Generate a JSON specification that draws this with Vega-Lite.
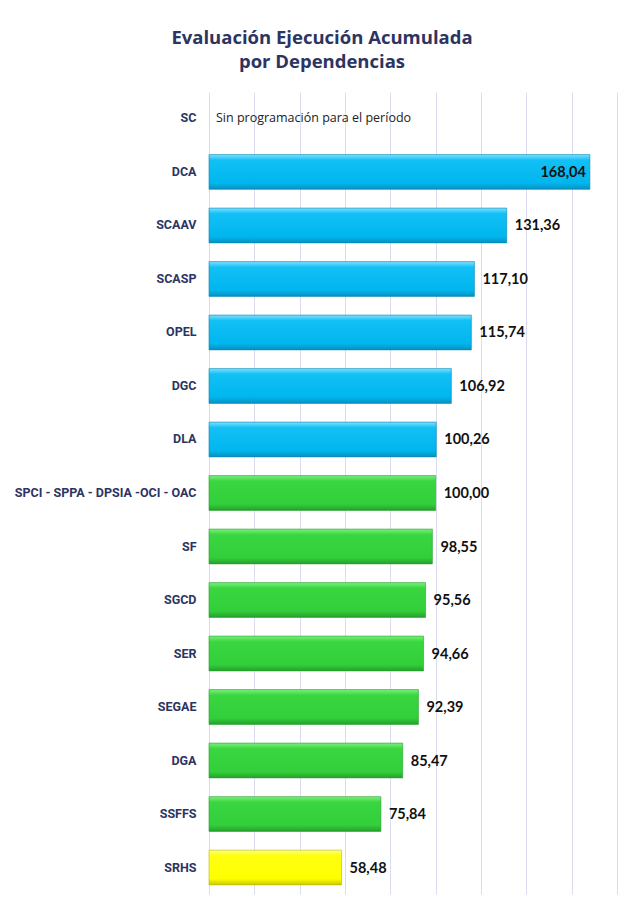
{
  "$schema": "https://vega.github.io/schema/vega-lite/v6.json",
  "autosize": "none",
  "width": 408,
  "height": 802,
  "padding": {"left": 209, "top": 92, "right": 14, "bottom": 7},
  "background": "white",
  "title": {
    "text": ["Evaluación Ejecución Acumulada", "por Dependencias"],
    "font": "Open Sans",
    "fontSize": 18.5,
    "fontWeight": "bold",
    "color": "#2c3462",
    "lineHeight": 24,
    "anchor": "middle",
    "frame": "group",
    "dx": -91,
    "offset": 21
  },
  "config": {
    "view": {"stroke": null},
    "axis": {"labelFont": "Roboto"}
  },
  "data": {
    "values": [
      {"dependencia": "SC", "valor": null, "etiqueta": "", "grupo": "ninguno", "nota": "Sin programación para el período"},
      {"dependencia": "DCA", "valor": 168.04, "etiqueta": "168,04", "grupo": "sobre", "nota": ""},
      {"dependencia": "SCAAV", "valor": 131.36, "etiqueta": "131,36", "grupo": "sobre", "nota": ""},
      {"dependencia": "SCASP", "valor": 117.10, "etiqueta": "117,10", "grupo": "sobre", "nota": ""},
      {"dependencia": "OPEL", "valor": 115.74, "etiqueta": "115,74", "grupo": "sobre", "nota": ""},
      {"dependencia": "DGC", "valor": 106.92, "etiqueta": "106,92", "grupo": "sobre", "nota": ""},
      {"dependencia": "DLA", "valor": 100.26, "etiqueta": "100,26", "grupo": "sobre", "nota": ""},
      {"dependencia": "SPCI - SPPA - DPSIA -OCI - OAC", "valor": 100.00, "etiqueta": "100,00", "grupo": "cumple", "nota": ""},
      {"dependencia": "SF", "valor": 98.55, "etiqueta": "98,55", "grupo": "cumple", "nota": ""},
      {"dependencia": "SGCD", "valor": 95.56, "etiqueta": "95,56", "grupo": "cumple", "nota": ""},
      {"dependencia": "SER", "valor": 94.66, "etiqueta": "94,66", "grupo": "cumple", "nota": ""},
      {"dependencia": "SEGAE", "valor": 92.39, "etiqueta": "92,39", "grupo": "cumple", "nota": ""},
      {"dependencia": "DGA", "valor": 85.47, "etiqueta": "85,47", "grupo": "cumple", "nota": ""},
      {"dependencia": "SSFFS", "valor": 75.84, "etiqueta": "75,84", "grupo": "cumple", "nota": ""},
      {"dependencia": "SRHS", "valor": 58.48, "etiqueta": "58,48", "grupo": "bajo", "nota": ""}
    ]
  },
  "encoding": {
    "y": {
      "field": "dependencia",
      "type": "nominal",
      "sort": ["SC", "DCA", "SCAAV", "SCASP", "OPEL", "DGC", "DLA", "SPCI - SPPA - DPSIA -OCI - OAC", "SF", "SGCD", "SER", "SEGAE", "DGA", "SSFFS", "SRHS"],
      "scale": {"paddingInner": 0.35, "paddingOuter": 0.17},
      "axis": {
        "title": null,
        "domain": false,
        "ticks": false,
        "grid": false,
        "labelPadding": 13,
        "labelFontSize": 12.5,
        "labelFontWeight": "bold",
        "labelColor": "#2c3462",
        "labelLimit": 300
      }
    }
  },
  "layer": [
    {
      "transform": [{"filter": "datum.grupo === 'sobre'"}],
      "mark": {
        "type": "bar",
        "stroke": "#0a86b4",
        "strokeWidth": 0.6,
        "color": {
          "gradient": "linear", "x1": 0, "y1": 0, "x2": 0, "y2": 1,
          "stops": [
            {"offset": 0, "color": "#7fe0ff"},
            {"offset": 0.16, "color": "#12c0f5"},
            {"offset": 0.82, "color": "#00b6ee"},
            {"offset": 1, "color": "#0890bf"}
          ]
        }
      },
      "encoding": {
        "x": {
          "field": "valor", "type": "quantitative",
          "scale": {"domain": [0, 180], "nice": false},
          "axis": {
            "title": null, "labels": false, "ticks": false, "domain": false,
            "grid": true, "gridColor": "#dcdcf0", "gridWidth": 1,
            "values": [0, 20, 40, 60, 80, 100, 120, 140, 160, 180]
          }
        }
      }
    },
    {
      "transform": [{"filter": "datum.grupo === 'cumple'"}],
      "mark": {
        "type": "bar",
        "stroke": "#27a02e",
        "strokeWidth": 0.6,
        "color": {
          "gradient": "linear", "x1": 0, "y1": 0, "x2": 0, "y2": 1,
          "stops": [
            {"offset": 0, "color": "#7cf07c"},
            {"offset": 0.16, "color": "#3ad640"},
            {"offset": 0.82, "color": "#33cf3b"},
            {"offset": 1, "color": "#24a02b"}
          ]
        }
      },
      "encoding": {
        "x": {"field": "valor", "type": "quantitative"}
      }
    },
    {
      "transform": [{"filter": "datum.grupo === 'bajo'"}],
      "mark": {
        "type": "bar",
        "stroke": "#b8b800",
        "strokeWidth": 0.6,
        "color": {
          "gradient": "linear", "x1": 0, "y1": 0, "x2": 0, "y2": 1,
          "stops": [
            {"offset": 0, "color": "#ffff80"},
            {"offset": 0.16, "color": "#ffff10"},
            {"offset": 0.82, "color": "#ffff00"},
            {"offset": 1, "color": "#c9c900"}
          ]
        }
      },
      "encoding": {
        "x": {"field": "valor", "type": "quantitative"}
      }
    },
    {
      "transform": [{"filter": "datum.valor != null && datum.dependencia !== 'DCA'"}],
      "mark": {"type": "text", "align": "left", "baseline": "middle", "dx": 8, "dy": 1, "font": "Lato", "fontSize": 14.5, "fontWeight": "bold", "color": "#111111"},
      "encoding": {
        "x": {"field": "valor", "type": "quantitative"},
        "text": {"field": "etiqueta"}
      }
    },
    {
      "transform": [{"filter": "datum.dependencia === 'DCA'"}],
      "mark": {"type": "text", "align": "right", "baseline": "middle", "dx": -4, "dy": 1, "font": "Lato", "fontSize": 14.5, "fontWeight": "bold", "color": "#111111"},
      "encoding": {
        "x": {"field": "valor", "type": "quantitative"},
        "text": {"field": "etiqueta"}
      }
    },
    {
      "transform": [{"filter": "datum.nota !== ''"}],
      "mark": {"type": "text", "align": "left", "baseline": "middle", "dx": 7, "font": "Open Sans", "fontSize": 12.5, "color": "#222222"},
      "encoding": {
        "x": {"datum": 0, "type": "quantitative"},
        "text": {"field": "nota"}
      }
    }
  ]
}
